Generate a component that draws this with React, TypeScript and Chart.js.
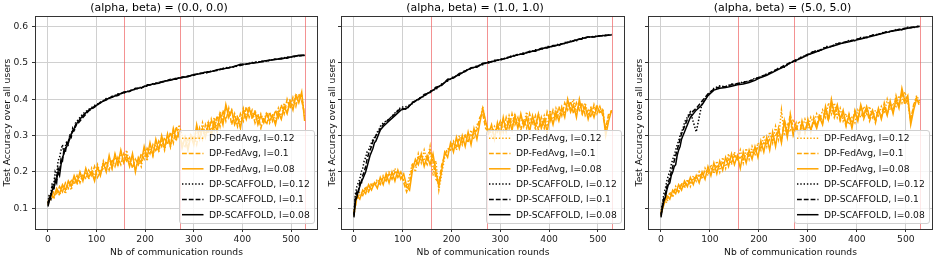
import React, { useEffect, useRef } from "react";
import { Chart, registerables } from "chart.js";

Chart.register(...registerables);

const FONT = "'DejaVu Sans', sans-serif";
const ORANGE = "#FFA500";
const BLACK = "#000000";

// x positions (communication rounds)
const roundsFedAvg = [
  0, 6, 12, 18, 24, 30, 36, 42, 48, 54, 60, 66, 72, 78, 84, 90, 96, 102, 108, 114,
  120, 126, 132, 138, 144, 150, 156, 162, 168, 174, 180, 186, 192, 198, 204, 210, 216, 222, 228, 234,
  240, 246, 252, 258, 264, 270, 276, 282, 288, 294, 300, 306, 312, 318, 324, 330, 336, 342, 348, 354,
  360, 366, 372, 378, 384, 390, 396, 402, 408, 414, 420, 426, 432, 438, 444, 450, 456, 462, 468, 474,
  480, 486, 492, 498, 504, 510, 516, 522, 528,
];
const roundsScaffold = [
  0, 3, 6, 9, 12, 15, 18, 21, 24, 27, 30, 33, 36, 39, 42, 45, 48, 51, 54, 57, 60,
  72, 84, 96, 108, 120, 132, 144, 156, 168, 180, 192, 204, 216, 228, 240, 252, 264, 276, 288, 300,
  312, 324, 336, 348, 360, 372, 384, 396, 408, 420, 432, 444, 456, 468, 480, 492, 504, 516, 528,
];

const lrLabels = ["0.12", "0.1", "0.08"];
const markerRounds = [157, 272, 529];
const panelTitles = ["(alpha, beta) = (0.0, 0.0)", "(alpha, beta) = (1.0, 1.0)", "(alpha, beta) = (5.0, 5.0)"];
const xTitle = "Nb of communication rounds";
const yTitle = "Test Accuracy over all users";

// ---- Panel 1: (0.0, 0.0)
const p1FedAvg012 = [
  0.115, 0.14, 0.125, 0.15, 0.135, 0.16, 0.14, 0.17, 0.15, 0.185,
  0.165, 0.195, 0.175, 0.2, 0.18, 0.21, 0.185, 0.22, 0.195, 0.23,
  0.205, 0.24, 0.21, 0.245, 0.215, 0.255, 0.225, 0.26, 0.22, 0.245,
  0.205, 0.235, 0.215, 0.26, 0.23, 0.27, 0.245, 0.28, 0.255, 0.29,
  0.26, 0.3, 0.27, 0.315, 0.285, 0.33, 0.3, 0.3, 0.27, 0.305,
  0.28, 0.32, 0.295, 0.335, 0.3, 0.34, 0.31, 0.35, 0.325, 0.365,
  0.34, 0.38, 0.355, 0.37, 0.335, 0.355, 0.33, 0.375, 0.35, 0.38,
  0.345, 0.37, 0.335, 0.36, 0.34, 0.365, 0.335, 0.36, 0.34, 0.375,
  0.35, 0.39, 0.365, 0.4, 0.38, 0.415, 0.395, 0.415, 0.35,
];
const p1FedAvg01 = [
  0.12, 0.125, 0.145, 0.14, 0.16, 0.145, 0.17, 0.155, 0.18, 0.165,
  0.19, 0.17, 0.195, 0.18, 0.205, 0.19, 0.215, 0.185, 0.2, 0.21,
  0.23, 0.205, 0.235, 0.215, 0.24, 0.22, 0.25, 0.23, 0.24, 0.21,
  0.235, 0.22, 0.25, 0.235, 0.265, 0.25, 0.275, 0.255, 0.285, 0.27,
  0.295, 0.275, 0.31, 0.28, 0.325, 0.295, 0.28, 0.27, 0.29, 0.285,
  0.3, 0.275, 0.32, 0.29, 0.33, 0.305, 0.345, 0.315, 0.355, 0.325,
  0.37, 0.34, 0.375, 0.33, 0.36, 0.325, 0.36, 0.34, 0.38, 0.35,
  0.37, 0.335, 0.36, 0.32, 0.35, 0.33, 0.365, 0.34, 0.37, 0.35,
  0.385, 0.36, 0.4, 0.375, 0.405, 0.38, 0.415, 0.395, 0.36,
];
const p1FedAvg008 = [
  0.11, 0.135, 0.13, 0.155, 0.14, 0.165, 0.15, 0.175, 0.16, 0.19,
  0.17, 0.2, 0.175, 0.21, 0.185, 0.2, 0.175, 0.215, 0.19, 0.225,
  0.2, 0.245, 0.21, 0.25, 0.22, 0.26, 0.225, 0.245, 0.215, 0.25,
  0.2, 0.24, 0.225, 0.27, 0.24, 0.28, 0.245, 0.29, 0.26, 0.3,
  0.265, 0.305, 0.27, 0.32, 0.29, 0.31, 0.265, 0.295, 0.26, 0.3,
  0.275, 0.33, 0.29, 0.32, 0.295, 0.335, 0.3, 0.34, 0.31, 0.36,
  0.33, 0.385, 0.35, 0.37, 0.33, 0.35, 0.32, 0.37, 0.345, 0.375,
  0.35, 0.365, 0.33, 0.355, 0.335, 0.36, 0.34, 0.355, 0.33, 0.365,
  0.345, 0.38, 0.36, 0.395, 0.37, 0.41, 0.39, 0.42, 0.34,
];
const p1Scaffold012 = [
  0.115, 0.14, 0.14, 0.17, 0.165, 0.2, 0.19, 0.23, 0.24, 0.26,
  0.275, 0.25, 0.27, 0.285, 0.28, 0.3, 0.3, 0.32, 0.31, 0.335, 0.34,
  0.36, 0.372, 0.383, 0.39, 0.402, 0.406, 0.415, 0.417, 0.424, 0.427,
  0.434, 0.436, 0.443, 0.446, 0.45, 0.453, 0.458, 0.459, 0.464, 0.467,
  0.47, 0.475, 0.477, 0.48, 0.485, 0.488, 0.489, 0.495, 0.496, 0.501,
  0.502, 0.506, 0.506, 0.511, 0.512, 0.516, 0.516, 0.52, 0.521,
];
const p1Scaffold01 = [
  0.11, 0.13, 0.125, 0.16, 0.15, 0.18, 0.17, 0.21, 0.2, 0.235,
  0.23, 0.26, 0.255, 0.28, 0.275, 0.3, 0.295, 0.315, 0.315, 0.33, 0.33,
  0.35, 0.368, 0.378, 0.392, 0.398, 0.408, 0.41, 0.42, 0.421, 0.43,
  0.43, 0.44, 0.44, 0.447, 0.448, 0.455, 0.455, 0.461, 0.463, 0.466,
  0.471, 0.472, 0.477, 0.479, 0.484, 0.486, 0.491, 0.493, 0.497, 0.499,
  0.503, 0.503, 0.508, 0.509, 0.513, 0.513, 0.518, 0.519, 0.522,
];
const p1Scaffold008 = [
  0.105, 0.12, 0.135, 0.15, 0.155, 0.17, 0.18, 0.2, 0.19, 0.22,
  0.24, 0.25, 0.265, 0.27, 0.285, 0.29, 0.305, 0.31, 0.32, 0.325, 0.335,
  0.355, 0.37, 0.38, 0.39, 0.4, 0.405, 0.413, 0.418, 0.423, 0.428,
  0.432, 0.438, 0.442, 0.444, 0.45, 0.452, 0.457, 0.46, 0.462, 0.468,
  0.47, 0.474, 0.476, 0.481, 0.483, 0.487, 0.49, 0.496, 0.497, 0.5,
  0.501, 0.505, 0.507, 0.51, 0.511, 0.515, 0.517, 0.521, 0.52,
];

// ---- Panel 2: (1.0, 1.0)
const p2FedAvg012 = [
  0.08, 0.13, 0.145, 0.14, 0.16, 0.15, 0.17, 0.165, 0.18, 0.17,
  0.19, 0.18, 0.2, 0.19, 0.21, 0.185, 0.2, 0.175, 0.155, 0.19,
  0.225, 0.2, 0.25, 0.225, 0.26, 0.23, 0.27, 0.19, 0.23, 0.15,
  0.195, 0.24, 0.26, 0.27, 0.285, 0.26, 0.3, 0.275, 0.305, 0.28,
  0.315, 0.29, 0.33, 0.34, 0.38, 0.33, 0.32, 0.3, 0.325, 0.31,
  0.33, 0.345, 0.32, 0.355, 0.33, 0.36, 0.325, 0.35, 0.33, 0.365,
  0.335, 0.35, 0.315, 0.36, 0.33, 0.355, 0.325, 0.37, 0.34, 0.375,
  0.35, 0.38, 0.36, 0.39, 0.375, 0.4, 0.365, 0.385, 0.36, 0.39,
  0.355, 0.38, 0.36, 0.385, 0.36, 0.375, 0.31, 0.35, 0.37,
];
const p2FedAvg01 = [
  0.09, 0.125, 0.14, 0.135, 0.155, 0.145, 0.165, 0.16, 0.175, 0.165,
  0.185, 0.175, 0.195, 0.18, 0.2, 0.185, 0.2, 0.17, 0.145, 0.17,
  0.22, 0.215, 0.24, 0.23, 0.235, 0.22, 0.26, 0.23, 0.18, 0.17,
  0.22, 0.245, 0.265, 0.26, 0.28, 0.27, 0.29, 0.28, 0.3, 0.285,
  0.3, 0.305, 0.315, 0.35, 0.36, 0.32, 0.31, 0.315, 0.31, 0.32,
  0.34, 0.31, 0.35, 0.32, 0.36, 0.33, 0.35, 0.315, 0.345, 0.32,
  0.36, 0.33, 0.355, 0.315, 0.35, 0.32, 0.365, 0.34, 0.37, 0.345,
  0.38, 0.355, 0.39, 0.37, 0.395, 0.36, 0.39, 0.37, 0.39, 0.355,
  0.37, 0.35, 0.385, 0.36, 0.38, 0.355, 0.32, 0.36, 0.365,
];
const p2FedAvg008 = [
  0.085, 0.135, 0.125, 0.15, 0.14, 0.165, 0.15, 0.17, 0.155, 0.185,
  0.165, 0.195, 0.17, 0.2, 0.175, 0.205, 0.18, 0.195, 0.16, 0.15,
  0.205, 0.235, 0.22, 0.25, 0.215, 0.245, 0.22, 0.25, 0.2, 0.16,
  0.205, 0.255, 0.24, 0.28, 0.255, 0.295, 0.265, 0.3, 0.27, 0.31,
  0.275, 0.32, 0.29, 0.335, 0.375, 0.34, 0.305, 0.33, 0.29, 0.335,
  0.3, 0.35, 0.31, 0.345, 0.315, 0.355, 0.32, 0.36, 0.325, 0.35,
  0.31, 0.355, 0.325, 0.36, 0.32, 0.345, 0.31, 0.36, 0.33, 0.365,
  0.34, 0.375, 0.35, 0.4, 0.365, 0.385, 0.35, 0.4, 0.36, 0.38,
  0.345, 0.375, 0.35, 0.38, 0.365, 0.37, 0.3, 0.34, 0.37,
];
const p2Scaffold012 = [
  0.085, 0.14, 0.16, 0.17, 0.18, 0.2, 0.21, 0.23, 0.24, 0.255,
  0.26, 0.27, 0.28, 0.29, 0.295, 0.3, 0.31, 0.315, 0.325, 0.33, 0.335,
  0.345, 0.362, 0.378, 0.38, 0.388, 0.402, 0.408, 0.422, 0.427, 0.442,
  0.45, 0.462, 0.466, 0.48, 0.484, 0.492, 0.495, 0.503, 0.504, 0.511,
  0.512, 0.52, 0.521, 0.528, 0.529, 0.536, 0.537, 0.545, 0.545, 0.552,
  0.553, 0.56, 0.561, 0.569, 0.57, 0.573, 0.574, 0.576, 0.577,
];
const p2Scaffold01 = [
  0.08, 0.13, 0.145, 0.14, 0.17, 0.165, 0.19, 0.2, 0.215, 0.235,
  0.25, 0.26, 0.27, 0.285, 0.29, 0.3, 0.305, 0.31, 0.32, 0.325, 0.33,
  0.345, 0.36, 0.375, 0.372, 0.392, 0.398, 0.413, 0.418, 0.433, 0.438,
  0.455, 0.458, 0.471, 0.476, 0.487, 0.488, 0.499, 0.5, 0.507, 0.507,
  0.515, 0.516, 0.524, 0.524, 0.532, 0.532, 0.54, 0.541, 0.548, 0.548,
  0.556, 0.557, 0.565, 0.565, 0.572, 0.571, 0.575, 0.575, 0.578,
];
const p2Scaffold008 = [
  0.075, 0.12, 0.13, 0.15, 0.16, 0.175, 0.18, 0.19, 0.2, 0.215,
  0.23, 0.245, 0.255, 0.265, 0.28, 0.285, 0.295, 0.305, 0.315, 0.32, 0.325,
  0.34, 0.355, 0.37, 0.375, 0.39, 0.4, 0.41, 0.42, 0.43, 0.44,
  0.452, 0.46, 0.468, 0.478, 0.485, 0.49, 0.497, 0.502, 0.505, 0.509,
  0.513, 0.518, 0.522, 0.526, 0.53, 0.534, 0.538, 0.543, 0.546, 0.55,
  0.554, 0.558, 0.563, 0.567, 0.571, 0.572, 0.574, 0.576, 0.577,
];

// ---- Panel 3: (5.0, 5.0)
const p3FedAvg012 = [
  0.08, 0.125, 0.115, 0.145, 0.13, 0.16, 0.145, 0.17, 0.155, 0.18,
  0.16, 0.19, 0.175, 0.2, 0.18, 0.21, 0.19, 0.22, 0.195, 0.23,
  0.2, 0.24, 0.21, 0.25, 0.22, 0.255, 0.23, 0.26, 0.225, 0.265,
  0.235, 0.27, 0.245, 0.28, 0.26, 0.3, 0.27, 0.31, 0.28, 0.325,
  0.29, 0.37, 0.3, 0.33, 0.31, 0.345, 0.315, 0.34, 0.32, 0.345,
  0.32, 0.35, 0.33, 0.36, 0.34, 0.37, 0.35, 0.39, 0.36, 0.39,
  0.35, 0.375, 0.34, 0.36, 0.33, 0.35, 0.335, 0.37, 0.35, 0.38,
  0.36, 0.38, 0.35, 0.37, 0.355, 0.38, 0.36, 0.4, 0.37, 0.39,
  0.38, 0.41, 0.39, 0.42, 0.39, 0.34, 0.38, 0.41, 0.395,
];
const p3FedAvg01 = [
  0.09, 0.12, 0.125, 0.14, 0.135, 0.155, 0.145, 0.165, 0.16, 0.175,
  0.17, 0.18, 0.185, 0.19, 0.185, 0.205, 0.2, 0.21, 0.205, 0.215,
  0.215, 0.225, 0.225, 0.235, 0.225, 0.245, 0.235, 0.24, 0.235, 0.25,
  0.245, 0.255, 0.25, 0.27, 0.265, 0.28, 0.275, 0.29, 0.285, 0.3,
  0.315, 0.285, 0.345, 0.305, 0.36, 0.315, 0.335, 0.295, 0.34, 0.305,
  0.345, 0.31, 0.35, 0.325, 0.36, 0.335, 0.37, 0.34, 0.385, 0.35,
  0.375, 0.34, 0.36, 0.325, 0.36, 0.33, 0.37, 0.345, 0.375, 0.345,
  0.37, 0.34, 0.365, 0.335, 0.37, 0.35, 0.39, 0.36, 0.385, 0.365,
  0.41, 0.38, 0.42, 0.385, 0.4, 0.34, 0.385, 0.405, 0.38,
];
const p3FedAvg008 = [
  0.085, 0.11, 0.135, 0.125, 0.15, 0.14, 0.165, 0.15, 0.175, 0.16,
  0.185, 0.165, 0.19, 0.17, 0.2, 0.18, 0.215, 0.19, 0.225, 0.195,
  0.23, 0.205, 0.24, 0.215, 0.25, 0.22, 0.245, 0.21, 0.255, 0.225,
  0.26, 0.235, 0.27, 0.24, 0.285, 0.255, 0.295, 0.26, 0.31, 0.27,
  0.32, 0.28, 0.34, 0.295, 0.35, 0.3, 0.325, 0.3, 0.335, 0.31,
  0.34, 0.315, 0.34, 0.32, 0.35, 0.33, 0.38, 0.345, 0.4, 0.36,
  0.385, 0.345, 0.37, 0.33, 0.355, 0.32, 0.365, 0.34, 0.385, 0.355,
  0.38, 0.35, 0.37, 0.34, 0.375, 0.345, 0.38, 0.355, 0.395, 0.36,
  0.4, 0.375, 0.43, 0.395, 0.41, 0.33, 0.37, 0.4, 0.39,
];
const p3Scaffold012 = [
  0.085, 0.115, 0.14, 0.155, 0.175, 0.19, 0.2, 0.22, 0.235, 0.245,
  0.26, 0.275, 0.285, 0.3, 0.31, 0.32, 0.335, 0.345, 0.35, 0.36, 0.365,
  0.31, 0.39, 0.412, 0.43, 0.437, 0.434, 0.442, 0.441, 0.448, 0.449,
  0.458, 0.461, 0.47, 0.474, 0.486, 0.488, 0.5, 0.505, 0.518, 0.52,
  0.533, 0.532, 0.545, 0.545, 0.555, 0.554, 0.562, 0.561, 0.57, 0.569,
  0.577, 0.578, 0.585, 0.585, 0.592, 0.591, 0.598, 0.597, 0.602,
];
const p3Scaffold01 = [
  0.08, 0.11, 0.13, 0.14, 0.16, 0.17, 0.185, 0.2, 0.215, 0.23,
  0.245, 0.26, 0.275, 0.29, 0.305, 0.315, 0.325, 0.335, 0.345, 0.355, 0.36,
  0.375, 0.395, 0.415, 0.428, 0.434, 0.435, 0.44, 0.443, 0.446, 0.45,
  0.455, 0.463, 0.468, 0.477, 0.484, 0.493, 0.501, 0.509, 0.516, 0.524,
  0.531, 0.535, 0.542, 0.546, 0.552, 0.556, 0.56, 0.563, 0.568, 0.571,
  0.576, 0.579, 0.584, 0.587, 0.59, 0.594, 0.596, 0.599, 0.601,
];
const p3Scaffold008 = [
  0.075, 0.1, 0.12, 0.13, 0.15, 0.165, 0.17, 0.19, 0.2, 0.215,
  0.22, 0.245, 0.26, 0.27, 0.29, 0.3, 0.31, 0.32, 0.33, 0.34, 0.35,
  0.37, 0.385, 0.41, 0.425, 0.43, 0.432, 0.436, 0.44, 0.442, 0.446,
  0.452, 0.46, 0.466, 0.474, 0.482, 0.49, 0.5, 0.507, 0.514, 0.522,
  0.528, 0.534, 0.54, 0.545, 0.55, 0.555, 0.558, 0.562, 0.566, 0.57,
  0.574, 0.578, 0.582, 0.586, 0.589, 0.592, 0.595, 0.598, 0.6,
];

const panels = [
  { title: panelTitles[0], fed: [p1FedAvg012, p1FedAvg01, p1FedAvg008], sca: [p1Scaffold012, p1Scaffold01, p1Scaffold008] },
  { title: panelTitles[1], fed: [p2FedAvg012, p2FedAvg01, p2FedAvg008], sca: [p2Scaffold012, p2Scaffold01, p2Scaffold008] },
  { title: panelTitles[2], fed: [p3FedAvg012, p3FedAvg01, p3FedAvg008], sca: [p3Scaffold012, p3Scaffold01, p3Scaffold008] },
];

// layout (pixels)
const canvasBoxes = [
  { left: 0, width: 320, yWidth: 35, padRight: 2, showYTicks: true },
  { left: 325, width: 301, yWidth: 16, padRight: 1, showYTicks: false },
  { left: 632, width: 302, yWidth: 16, padRight: 1, showYTicks: false },
];
const H = 261;

const dashes = [[1.4, 1.9], [4.8, 2.0], []];

const framePlugin = {
  id: "frameAndMarkers",
  beforeDatasetsDraw(chart: any) {
    const { ctx, chartArea, scales } = chart;
    ctx.save();
    ctx.strokeStyle = "rgba(240, 100, 100, 0.7)";
    ctx.lineWidth = 1;
    markerRounds.forEach((r) => {
      const x = Math.round(scales.x.getPixelForValue(r)) + 0.5;
      ctx.beginPath();
      ctx.moveTo(x, chartArea.top);
      ctx.lineTo(x, chartArea.bottom);
      ctx.stroke();
    });
    ctx.restore();
  },
  afterDatasetsDraw(chart: any) {
    const { ctx, chartArea } = chart;
    ctx.save();
    ctx.strokeStyle = "#333333";
    ctx.lineWidth = 1;
    ctx.strokeRect(
      Math.round(chartArea.left) + 0.5,
      Math.round(chartArea.top) + 0.5,
      Math.round(chartArea.right - chartArea.left) - 1,
      Math.round(chartArea.bottom - chartArea.top)
    );
    ctx.restore();
  },
};

const innerLegend = {
  id: "innerLegend",
  afterDraw(chart: any) {
    const { ctx, chartArea } = chart;
    const w = 135;
    const h = 93;
    const x0 = chartArea.right - 3.5 - w;
    const y0 = chartArea.bottom - 5.5 - h;
    ctx.save();
    ctx.beginPath();
    const r = 2.5;
    ctx.moveTo(x0 + r, y0);
    ctx.lineTo(x0 + w - r, y0);
    ctx.quadraticCurveTo(x0 + w, y0, x0 + w, y0 + r);
    ctx.lineTo(x0 + w, y0 + h - r);
    ctx.quadraticCurveTo(x0 + w, y0 + h, x0 + w - r, y0 + h);
    ctx.lineTo(x0 + r, y0 + h);
    ctx.quadraticCurveTo(x0, y0 + h, x0, y0 + h - r);
    ctx.lineTo(x0, y0 + r);
    ctx.quadraticCurveTo(x0, y0, x0 + r, y0);
    ctx.closePath();
    ctx.fillStyle = "rgba(255,255,255,0.8)";
    ctx.fill();
    ctx.strokeStyle = "#d0d0d0";
    ctx.lineWidth = 1;
    ctx.stroke();
    ctx.font = `9.2px ${FONT}`;
    ctx.textBaseline = "middle";
    ctx.textAlign = "left";
    chart.data.datasets.forEach((ds: any, i: number) => {
      const y = y0 + 7.7 + i * 15.3;
      ctx.setLineDash(ds.borderDash || []);
      ctx.strokeStyle = ds.borderColor;
      ctx.lineWidth = 1.5;
      ctx.beginPath();
      ctx.moveTo(x0 + 2.5, y);
      ctx.lineTo(x0 + 24, y);
      ctx.stroke();
      ctx.setLineDash([]);
      ctx.fillStyle = "#111111";
      ctx.fillText(ds.label, x0 + 29.5, y + 0.5);
    });
    ctx.restore();
  },
};

function makeConfig(p: any, box: any): any {
  const datasets: any[] = [];
  lrLabels.forEach((lr, k) => {
    datasets.push({
      label: `DP-FedAvg, l=${lr}`,
      data: roundsFedAvg.map((r, i) => ({ x: r, y: p.fed[k][i] })),
      borderColor: ORANGE,
      backgroundColor: ORANGE,
      borderDash: dashes[k],
      borderWidth: 1.5,
      pointRadius: 0,
      tension: 0,
      fill: false,
      order: 2,
    });
  });
  lrLabels.forEach((lr, k) => {
    datasets.push({
      label: `DP-SCAFFOLD, l=${lr}`,
      data: roundsScaffold.map((r, i) => ({ x: r, y: p.sca[k][i] })),
      borderColor: BLACK,
      backgroundColor: BLACK,
      borderDash: dashes[k],
      borderWidth: 1.5,
      pointRadius: 0,
      tension: 0,
      fill: false,
      order: 1,
    });
  });
  return {
    type: "line",
    data: { datasets },
    plugins: [framePlugin, innerLegend],
    options: {
      animation: false,
      responsive: false,
      devicePixelRatio: 1,
      layout: { padding: { left: 0, right: box.padRight, top: 0, bottom: 0 } },
      plugins: {
        legend: { display: false },
        tooltip: { enabled: false },
        title: {
          display: true,
          text: p.title,
          color: "#000000",
          font: { family: FONT, size: 11, weight: "normal", lineHeight: 1.2 },
          padding: { top: 1.6, bottom: 1.2 },
        },
      },
      scales: {
        x: {
          type: "linear",
          min: -26.5,
          max: 555.5,
          afterFit: (s: any) => {
            s.height = 32;
          },
          border: { display: false },
          grid: { color: "#d0d0d0", lineWidth: 1, tickColor: "#333333", tickLength: 3, drawTicks: true },
          ticks: {
            stepSize: 100,
            includeBounds: false,
            color: "#222222",
            padding: 2,
            maxRotation: 0,
            font: { family: FONT, size: 9.2 },
            callback: (v: any) => String(v),
          },
          title: {
            display: true,
            text: xTitle,
            color: "#111111",
            font: { family: FONT, size: 9.2 },
            padding: { top: 0, bottom: 3 },
          },
        },
        y: {
          type: "linear",
          min: 0.043,
          max: 0.629,
          afterFit: (s: any) => {
            s.width = box.yWidth;
          },
          border: { display: false },
          grid: { color: "#d0d0d0", lineWidth: 1, tickColor: "#333333", tickLength: 3, drawTicks: true },
          ticks: {
            display: box.showYTicks,
            stepSize: 0.1,
            includeBounds: false,
            color: "#222222",
            padding: 4,
            font: { family: FONT, size: 9.2 },
            callback: (v: any) => Number(v).toFixed(1),
          },
          title: {
            display: true,
            text: yTitle,
            color: "#111111",
            font: { family: FONT, size: 9.2 },
            padding: { top: 2.5, bottom: 0 },
          },
        },
      },
    },
  };
}

export default function App() {
  const r0 = useRef<HTMLCanvasElement>(null);
  const r1 = useRef<HTMLCanvasElement>(null);
  const r2 = useRef<HTMLCanvasElement>(null);
  const refs = [r0, r1, r2];

  useEffect(() => {
    const charts: Chart[] = [];
    refs.forEach((ref, i) => {
      if (ref.current) {
        charts.push(new Chart(ref.current, makeConfig(panels[i], canvasBoxes[i])));
      }
    });
    return () => charts.forEach((c) => c.destroy());
  }, []);

  return (
    <div style={{ position: "fixed", left: 0, top: 0, width: 934, height: H, background: "#ffffff", overflow: "hidden" }}>
      {canvasBoxes.map((b, i) => (
        <canvas
          key={i}
          ref={refs[i]}
          width={b.width}
          height={H}
          style={{ position: "absolute", left: b.left, top: 0, width: b.width, height: H }}
        />
      ))}
    </div>
  );
}
